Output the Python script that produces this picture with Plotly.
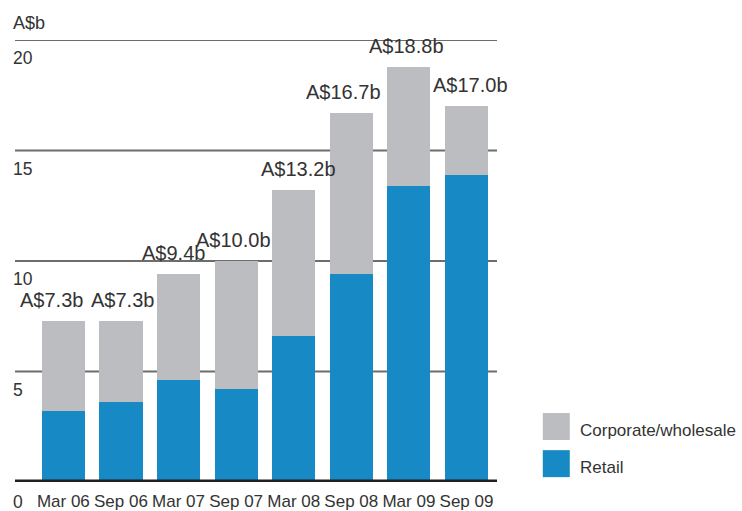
import plotly.graph_objects as go

periods = ["Mar 06", "Sep 06", "Mar 07", "Sep 07", "Mar 08", "Sep 08", "Mar 09", "Sep 09"]
totals = [7.3, 7.3, 9.4, 10.0, 13.2, 16.7, 18.8, 17.0]
retail = [3.2, 3.6, 4.6, 4.2, 6.6, 9.4, 13.4, 13.9]
total_labels = ["A$7.3b", "A$7.3b", "A$9.4b", "A$10.0b", "A$13.2b", "A$16.7b", "A$18.8b", "A$17.0b"]
corporate = [round(t - r, 2) for t, r in zip(totals, retail)]
y_ticks = [0, 5, 10, 15, 20]

# style: small horizontal nudges of the total labels, as in the original artwork (px)
label_xshift = [-12, 2, -5, -3, 5, -8, -2, 4]

GREY = "#bcbdc0"
BLUE = "#1789c4"
TXT = "#333333"
FONT = "Liberation Sans, Arial, Helvetica, sans-serif"

fig = go.Figure()
fig.add_trace(go.Bar(x=periods, y=retail, name="Retail", marker=dict(color=BLUE, line=dict(width=0))))
fig.add_trace(go.Bar(x=periods, y=corporate, name="Corporate/wholesale", marker=dict(color=GREY, line=dict(width=0))))

annotations = []
for p, t, lab, dx in zip(periods, totals, total_labels, label_xshift):
    annotations.append(dict(x=p, y=t, xref="x", yref="y", text=lab, showarrow=False,
                            yanchor="bottom", yshift=8, xshift=dx,
                            font=dict(size=20, color=TXT, family=FONT)))
for v in y_ticks:
    annotations.append(dict(x=0, y=v, xref="paper", yref="y", text=str(v), showarrow=False,
                            xanchor="left", yanchor="top", xshift=-4, yshift=(-8 if v == 0 else -6),
                            font=dict(size=17.5, color=TXT, family=FONT)))
annotations.append(dict(x=0, y=1, xref="paper", yref="paper", text="A$b", showarrow=False,
                        xanchor="left", yanchor="bottom", xshift=-4, yshift=5,
                        font=dict(size=18, color=TXT, family=FONT)))

# legend (custom)
legend_items = [("Corporate/wholesale", GREY, 0.156, 0.095), ("Retail", BLUE, 0.072, 0.011)]
shapes = []
for name, col, y1, y0 in legend_items:
    shapes.append(dict(type="rect", xref="paper", yref="paper", x0=1.095, x1=1.151, y0=y0, y1=y1,
                       fillcolor=col, line=dict(width=0)))
    annotations.append(dict(x=1.168, y=(y0 + y1) / 2, xref="paper", yref="paper", text=name,
                            showarrow=False, xanchor="left", yanchor="middle", yshift=-4,
                            font=dict(size=17, color=TXT, family=FONT)))

# gridlines
for v in y_ticks[1:]:
    shapes.append(dict(type="line", xref="paper", yref="y", x0=0, x1=1, y0=v, y1=v,
                       line=dict(color="#6d6d6d", width=2), layer="below"))
# baseline
shapes.append(dict(type="line", xref="paper", yref="y", x0=0, x1=1, y0=0, y1=0,
                   line=dict(color="#231f20", width=5), layer="above"))

fig.update_layout(
    barmode="stack",
    bargap=0.25,
    width=742, height=511,
    margin=dict(l=15, r=245, t=40, b=29, autoexpand=False),
    paper_bgcolor="white", plot_bgcolor="white",
    showlegend=False,
    annotations=annotations,
    shapes=shapes,
    font=dict(family=FONT, color=TXT),
    xaxis=dict(range=[-0.84, 7.53], showgrid=False, showline=False, zeroline=False, automargin=False,
               ticks="", ticklabelstandoff=7, tickfont=dict(size=17, color=TXT, family=FONT)),
    yaxis=dict(range=[0, 20], showticklabels=False, showgrid=False, automargin=False,
               zeroline=False, showline=False, ticks=""),
)
fig.update_traces(cliponaxis=False)

fig.write_html("out.html", config={"displayModeBar": False},
               post_script="document.body.style.margin='0';document.body.style.overflow='hidden';")
